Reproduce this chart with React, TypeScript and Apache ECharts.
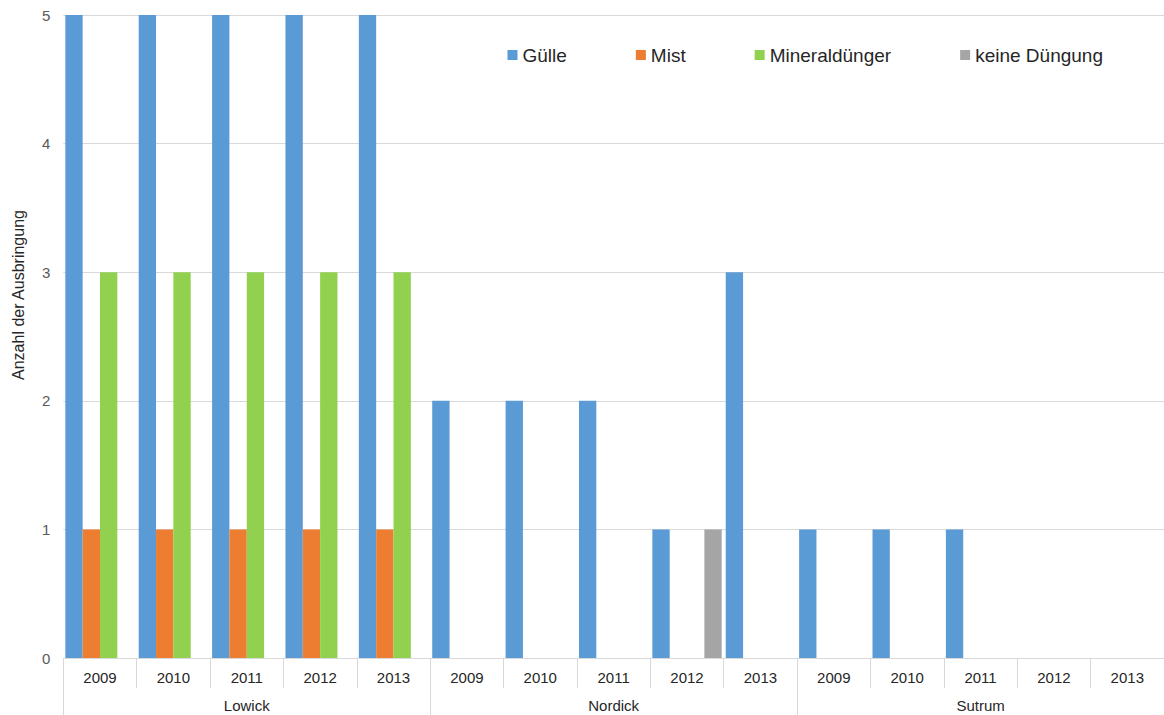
import React, { useEffect, useRef } from "react";
import * as echarts from "echarts";

const years = ["2009", "2010", "2011", "2012", "2013", "2009", "2010", "2011", "2012", "2013", "2009", "2010", "2011", "2012", "2013"];
const sites = ["Lowick", "Nordick", "Sutrum"];
const guelle = [5, 5, 5, 5, 5, 2, 2, 2, 1, 3, 1, 1, 1, 0, 0];
const mist = [1, 1, 1, 1, 1, 0, 0, 0, 0, 0, 0, 0, 0, 0, 0];
const mineral = [3, 3, 3, 3, 3, 0, 0, 0, 0, 0, 0, 0, 0, 0, 0];
const keine = [0, 0, 0, 0, 0, 0, 0, 0, 1, 0, 0, 0, 0, 0, 0];
const seriesNames = ["Gülle", "Mist", "Mineraldünger", "keine Düngung"];
const colors = ["#5B9BD5", "#ED7D31", "#92D050", "#A5A5A5"];
const yTitle = "Anzahl der Ausbringung";

const FONT = "'Liberation Sans', Arial, sans-serif";

export default function App() {
  const ref = useRef<HTMLDivElement>(null);
  useEffect(() => {
    if (!ref.current) return;
    const chart = echarts.init(ref.current, null, { renderer: "svg" });
    const values = [guelle, mist, mineral, keine];
    chart.setOption({
      animation: false,
      textStyle: { fontFamily: FONT },
      color: colors,
      grid: { left: 63.3, right: -4, top: 15, bottom: 57, containLabel: false },
      legend: {
        data: seriesNames,
        left: 507.5,
        top: 45,
        padding: 0,
        itemWidth: 10,
        itemHeight: 10,
        itemGap: 69,
        icon: "rect",
        textStyle: { fontSize: 19, color: "#262626", lineHeight: 20, fontFamily: FONT },
      },
      xAxis: [
        {
          type: "category",
          data: years,
          position: "bottom",
          axisLine: { show: true, lineStyle: { color: "#d9d9d9", width: 1 } },
          axisTick: { show: true, interval: 0, length: 30, lineStyle: { color: "#d9d9d9" } },
          axisLabel: { interval: 0, margin: 12, fontSize: 15, color: "#262626", fontFamily: FONT },
          splitLine: { show: false },
        },
        {
          type: "category",
          data: sites,
          position: "bottom",
          axisLine: { show: false },
          axisTick: { show: true, interval: 0, length: 60, lineStyle: { color: "#d9d9d9" } },
          axisLabel: { interval: 0, margin: 40, fontSize: 15, color: "#262626", fontFamily: FONT },
          splitLine: { show: false },
        },
      ],
      yAxis: {
        type: "value",
        min: 0,
        max: 5,
        interval: 1,
        axisLine: { show: false },
        axisTick: { show: false },
        axisLabel: { margin: 13, fontSize: 15, color: "#595959", fontFamily: FONT },
        splitLine: { show: true, lineStyle: { color: "#d9d9d9", width: 1 } },
      },
      graphic: [
        {
          type: "text",
          x: 18,
          y: 295,
          rotation: Math.PI / 2,
          style: {
            text: yTitle,
            font: `16px ${FONT}`,
            fill: "#262626",
            textAlign: "center",
            textVerticalAlign: "middle",
          },
        },
      ],
      series: seriesNames.map((name, i) => ({
        name,
        type: "bar",
        xAxisIndex: 0,
        data: values[i],
        barGap: "0%",
        barCategoryGap: "5.5%",
        itemStyle: { color: colors[i] },
      })),
    });
    return () => chart.dispose();
  }, []);
  return (
    <div
      ref={ref}
      style={{ position: "fixed", left: 0, top: 0, width: 1164, height: 715, background: "#fff" }}
    />
  );
}
